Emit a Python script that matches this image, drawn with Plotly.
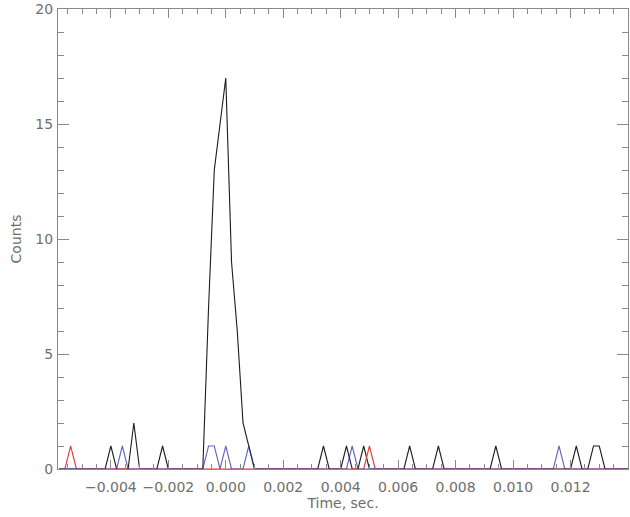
import numpy as np
import plotly.graph_objects as go

# Time bins (s): 0.2 ms wide, from -5.8 ms to 14.0 ms
bin_start = -0.0058
bin_width = 0.0002
n_bins = 100

# Non-empty bins for each channel: bin time (s) and counts
black_times = [-0.0040, -0.0032, -0.0022,
               -0.0006, -0.0004, -0.0002, 0.0000, 0.0002, 0.0004, 0.0006, 0.0008,
               0.0034, 0.0042, 0.0048, 0.0064, 0.0074, 0.0094, 0.0122, 0.0128, 0.0130]
black_counts = [1, 2, 1,
                7, 13, 15, 17, 9, 6, 2, 1,
                1, 1, 1, 1, 1, 1, 1, 1, 1]

blue_times = [-0.0036, -0.0006, -0.0004, 0.0000, 0.0008, 0.0044, 0.0116]
blue_counts = [1, 1, 1, 1, 1, 1, 1]

red_times = [-0.0054, 0.0050]
red_counts = [1, 1]

x_ticks = [-0.004, -0.002, 0.000, 0.002, 0.004, 0.006, 0.008, 0.010, 0.012]
y_ticks = [0, 5, 10, 15, 20]

t = bin_start + bin_width * np.arange(n_bins)


def histogram(times, counts):
    h = np.zeros(n_bins)
    for tt, c in zip(times, counts):
        h[int(round((tt - bin_start) / bin_width))] = c
    return h


AX = "#8a8a8a"
TXT = "#6e6e6e"
FONT = "DejaVu Sans"

fig = go.Figure()
for times, counts, color, op in [
    (black_times, black_counts, "#1c1c1c", 1.0),
    (red_times, red_counts, "#e03a3a", 1.0),
    (blue_times, blue_counts, "#2222a8", 0.7),
]:
    fig.add_trace(go.Scatter(x=t, y=histogram(times, counts), mode="lines",
                             line=dict(color=color, width=1.1), opacity=op,
                             showlegend=False, hoverinfo="skip"))

fig.update_layout(
    width=630, height=517,
    margin=dict(l=58, r=2, t=9, b=48),
    paper_bgcolor="white", plot_bgcolor="white",
    font=dict(family=FONT, size=14, color=TXT),
)

fig.update_xaxes(
    range=[-0.00584, 0.01400], tickvals=x_ticks,
    ticktext=[("\u2212" if v < 0 else "") + f"{abs(v):.3f}" for v in x_ticks],
    showline=True, linecolor=AX, linewidth=1, mirror="ticks",
    ticks="inside", ticklen=9, tickcolor=AX, tickwidth=1,
    minor=dict(dtick=0.0005, tick0=0, ticks="inside", ticklen=5, tickcolor=AX, tickwidth=1),
    showgrid=False, zeroline=False, ticklabelstandoff=5,
    title=dict(text="Time, sec.", standoff=4, font=dict(size=14, color=TXT)),
    automargin=False,
)
fig.update_yaxes(
    range=[0, 20], tickvals=y_ticks,
    showline=True, linecolor=AX, linewidth=1, mirror="ticks",
    ticks="inside", ticklen=11, tickcolor=AX, tickwidth=1,
    minor=dict(dtick=1, tick0=0, ticks="inside", ticklen=6, tickcolor=AX, tickwidth=1),
    showgrid=False, zeroline=False, ticklabelstandoff=1, ticklabeloverflow="allow",
    title=dict(text="Counts", standoff=10, font=dict(size=14, color=TXT)),
    automargin=False,
)

fig.write_html("out.html")
